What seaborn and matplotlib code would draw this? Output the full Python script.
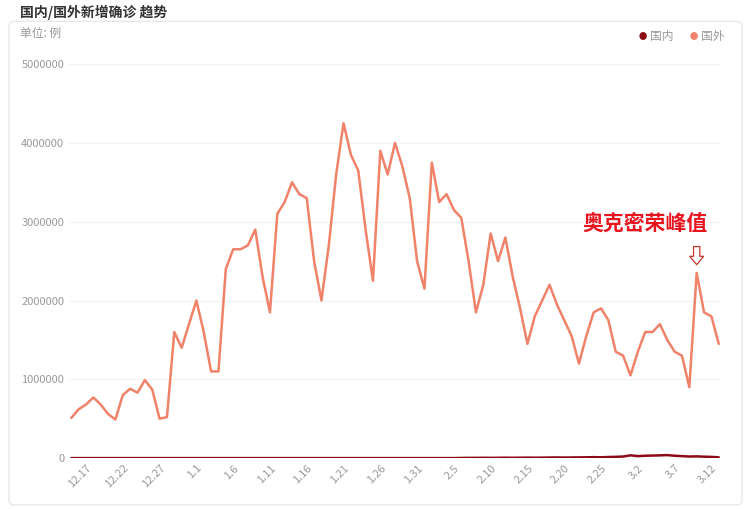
import numpy as np
import pandas as pd
import matplotlib
matplotlib.use("Agg")
import matplotlib.pyplot as plt
import seaborn as sns
from matplotlib.patches import FancyBboxPatch

# daily new cases, 12.14 -> 3.12
abroad = [510, 620, 680, 770, 680, 560, 490, 800, 880, 830, 990, 870, 500, 520,
          1600, 1400, 1700, 2000, 1600, 1100, 1100, 2400, 2650, 2650, 2700, 2900,
          2300, 1850, 3100, 3250, 3500, 3350, 3300, 2500, 2000, 2700, 3600, 4250,
          3850, 3650, 2900, 2250, 3900, 3600, 4000, 3700, 3300, 2500, 2150, 3750,
          3250, 3350, 3150, 3050, 2500, 1850, 2200, 2850, 2500, 2800, 2300, 1900,
          1450, 1800, 2000, 2200, 1950, 1750, 1550, 1200, 1550, 1850, 1900, 1750,
          1350, 1300, 1050, 1350, 1600, 1600, 1700, 1500, 1350, 1300, 900, 2350,
          1850, 1800, 1450]
abroad = [v * 1000 for v in abroad]
n = len(abroad)
domestic = [0] * (n - 36) + [2, 3, 3, 4, 3, 4, 5, 4, 5, 6, 5, 6, 7, 8, 7, 8, 9, 10,
                             12, 10, 14, 16, 20, 35, 25, 30, 32, 35, 38, 30, 25, 20, 22, 18, 15, 10]
domestic = [v * 1000 for v in domestic]
dates = pd.date_range(end="2022-03-12", periods=n, freq="D")
day = list(range(n))
tick_pos = [i for i, d in enumerate(dates) if (d - pd.Timestamp("2021-12-17")).days % 5 == 0
            and d >= pd.Timestamp("2021-12-17")]
tick_labels = [f"{dates[i].month}.{dates[i].day}" for i in tick_pos]

sns.set_style("white")
plt.rcParams['font.family'] = ['Noto Sans CJK SC', 'DejaVu Sans']

fig = plt.figure(figsize=(7.51, 5.09), dpi=100)
card = FancyBboxPatch((0.012, 0.008), 0.976, 0.95, boxstyle="round,pad=0,rounding_size=0.008",
                      transform=fig.transFigure, fc="white", ec="#e8e8e8", lw=1, zorder=-10)
fig.patches.append(card)
ax = fig.add_axes([0.092, 0.1, 0.868, 0.774])
ax.patch.set_alpha(0)

df = pd.DataFrame({"day": day * 2, "value": domestic + abroad,
                   "series": ["国内"] * n + ["国外"] * n})
sns.lineplot(data=df, x="day", y="value", hue="series", palette={"国内": "#8b0a14", "国外": "#f0826a"},
             linewidth=1.8, legend=False, ax=ax)

ax.set_ylim(0, 5000000)
ax.set_yticks(range(0, 5000001, 1000000))
ax.set_yticklabels([str(v) for v in range(0, 5000001, 1000000)], fontsize=8, color="#999999")
ax.set_xlim(-0.3, n - 0.7)
ax.set_xticks(tick_pos)
ax.set_xticklabels(tick_labels, rotation=45, fontsize=8, color="#999999", ha="right")
ax.set_xlabel("")
ax.set_ylabel("")
ax.grid(axis="y", color="#f2f2f2", lw=0.8)
for s in ax.spines.values():
    s.set_visible(False)
ax.tick_params(length=0)

fig.text(0.026, 0.975, "国内/国外新增确诊 趋势", fontsize=10, weight="bold", color="#333333", va="center")
fig.text(0.026, 0.935, "单位: 例", fontsize=8.5, color="#999999", va="center")
fig.text(0.851, 0.928, "●", fontsize=6, color="#8b0a14", va="center")
fig.text(0.866, 0.928, "国内", fontsize=8.5, color="#999999", va="center")
fig.text(0.918, 0.928, "●", fontsize=6, color="#f0826a", va="center")
fig.text(0.933, 0.928, "国外", fontsize=8.5, color="#999999", va="center")

peak = n - 4
ax.text(n - 11, 2980000, "奥克密荣峰值", fontsize=15, weight="bold",
        color="#e8141e", ha="center", va="center")
ax.annotate("", xy=(peak, 2420000), xytext=(peak, 2720000),
            arrowprops=dict(arrowstyle="simple,head_width=1.0,head_length=0.6,tail_width=0.45",
                            fc="white", ec="#c0392b", lw=0.9))

fig.savefig("out.png", dpi=100)
